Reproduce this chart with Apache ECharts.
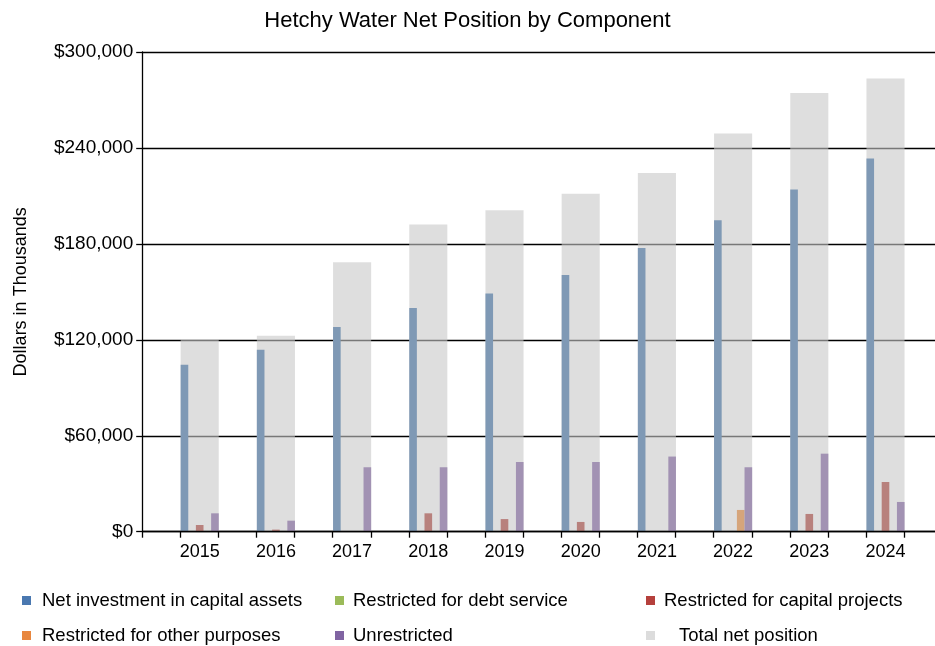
<!DOCTYPE html>
<html><head><meta charset="utf-8">
<script src="https://cdn.jsdelivr.net/npm/echarts@6/dist/echarts.min.js"></script>
<style>html,body{margin:0;padding:0;background:#fff}#c{width:935px;height:646px}</style>
</head><body><div id="c"></div>
<script>
const years = ['2015','2016','2017','2018','2019','2020','2021','2022','2023','2024'];
const netInvestment   = [104400, 113800, 128000, 139900, 148900, 160600, 177500, 194800, 214000, 233400];
const debtService     = [0, 0, 0, 0, 0, 0, 0, 0, 0, 0];
const capitalProjects = [4200, 1300, 0, 11500, 7900, 6100, 0, 0, 11100, 31100];
const otherPurposes   = [0, 0, 0, 0, 0, 0, 0, 13600, 0, 0];
const unrestricted    = [11500, 6900, 40300, 40300, 43600, 43600, 47000, 40300, 48800, 18600];
const totalNet        = [120500, 122600, 168500, 192100, 201000, 211300, 224400, 249100, 274300, 283500];
const yTickValues = [0, 60000, 120000, 180000, 240000, 300000];
// half-category tick marks along the x axis line (decoration only)
const xTickMarks = [0,1,2,3,4,5,6,7,8,9,10,11,12,13,14,15,16,17,18,19,20];

const names = ['Net investment in capital assets','Restricted for debt service','Restricted for capital projects',
  'Restricted for other purposes','Unrestricted','Total net position'];
const barColors = ['#7f99b5','#9bbb59','#b8817d','#d6a57b','#a292b3','rgba(200,200,200,0.6)'];
const legendColors = ['#4a78b0','#9bbb59','#b5403c','#e8873f','#8064a2','#dcdcdc'];

const chart = echarts.init(document.getElementById('c'), null, {renderer:'canvas'});
const font = 'Liberation Sans, Arial, sans-serif';
function fmt(v){ return '$' + Number(v).toLocaleString('en-US'); }

const legendPos = [
  {left: 17, top: 586, pad: 6},
  {left: 330, top: 586, pad: 4},
  {left: 641, top: 586, pad: 4},
  {left: 17, top: 621, pad: 6},
  {left: 330, top: 621, pad: 4},
  {left: 641, top: 621, pad: 19}
];

const compSeries = [netInvestment, debtService, capitalProjects, otherPurposes, unrestricted];

chart.setOption({
  animation: false,
  backgroundColor: '#fff',
  title: {
    text: 'Hetchy Water Net Position by Component',
    left: 'center', top: 5,
    textStyle: {fontFamily: font, fontSize: 22, fontWeight: 'normal', color: '#000'}
  },
  legend: legendPos.map((p, i) => ({
    data: [{name: names[i], itemStyle: {color: legendColors[i], opacity: 1}}],
    left: p.left, top: p.top,
    itemWidth: 9, itemHeight: 9, icon: 'rect',
    selectedMode: false,
    textStyle: {fontFamily: font, fontSize: 18.5, color: '#000', padding: [0, 0, 0, p.pad]}
  })),
  grid: [
    {left: 161.6, right: 11.4, top: 52, bottom: 114.3},
    {left: 142.2, right: 0, top: 52, bottom: 114.3}
  ],
  xAxis: [
    {gridIndex: 0, type: 'category', data: years,
     axisLine: {show: false}, axisTick: {show: false},
     axisLabel: {fontFamily: font, fontSize: 18, color: '#000', margin: 11}},
    {gridIndex: 0, type: 'category', data: years, show: false},
    {gridIndex: 1, type: 'value', min: 0, max: 20.81, interval: 1, z: 10,
     axisLine: {show: true, lineStyle: {color: '#000', width: 1.3}},
     axisTick: {show: true, length: 6, customValues: xTickMarks, lineStyle: {color: '#000', width: 1.3}},
     axisLabel: {show: false}, splitLine: {show: false}}
  ],
  yAxis: [
    {gridIndex: 0, type: 'value', min: 0, max: 300000, interval: 60000, show: false},
    {gridIndex: 1, type: 'value', min: 0, max: 300000, interval: 60000,
     name: 'Dollars in Thousands', nameLocation: 'middle', nameGap: 112,
     nameTextStyle: {fontFamily: font, fontSize: 18, color: '#000'},
     axisLine: {show: true, lineStyle: {color: '#000', width: 1.3}},
     axisTick: {show: true, length: 6, lineStyle: {color: '#000', width: 1.3}},
     axisLabel: {fontFamily: font, fontSize: 19, color: '#000', margin: 9, formatter: fmt,
       customValues: yTickValues},
     splitLine: {show: true, lineStyle: {color: '#000', width: 1.3}}}
  ],
  series: [
    {name: names[5], type: 'bar', xAxisIndex: 1, yAxisIndex: 0, data: totalNet,
     barWidth: '50%', itemStyle: {color: barColors[5]}}
  ].concat(compSeries.map((d, i) => ({
    name: names[i], type: 'bar', xAxisIndex: 0, yAxisIndex: 0, data: d,
    barGap: 0, barCategoryGap: '50%', itemStyle: {color: barColors[i]}
  })))
});
</script></body></html>
